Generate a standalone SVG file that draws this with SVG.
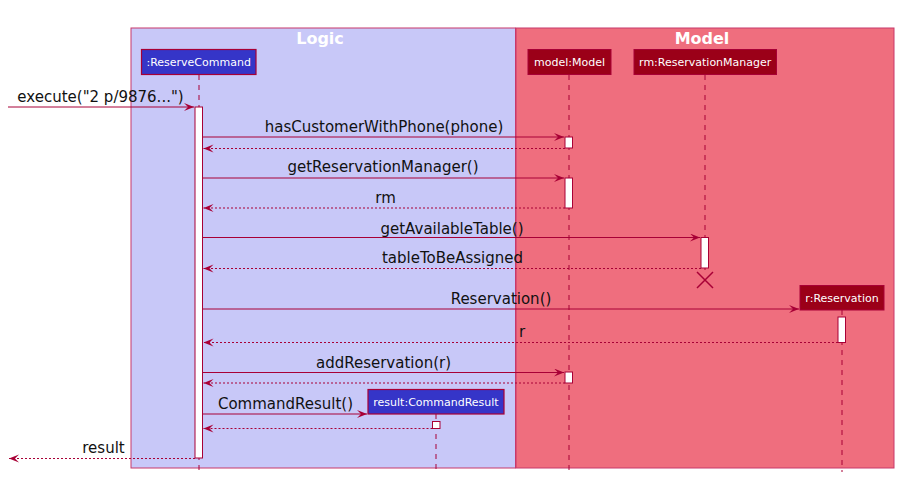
<svg xmlns="http://www.w3.org/2000/svg" width="916" height="483" viewBox="0 0 916 483">
<style>
.bg{fill:#ffffff}
.logic{fill:#C8C8F8;stroke:#C8386A;stroke-width:1}
.model{fill:#EF6E7E;stroke:#C8386A;stroke-width:1}
.title{font-family:"DejaVu Sans",sans-serif;font-size:16px;font-weight:bold;fill:#ffffff;text-anchor:middle}
.lpart{fill:#3535C8;stroke:#A80036;stroke-width:1.2}
.mpart{fill:#9B0018;stroke:#A80036;stroke-width:1}
.plabel{font-family:"DejaVu Sans",sans-serif;font-size:11px;fill:#ffffff;text-anchor:middle}
.life{stroke:#A80036;stroke-width:1;stroke-dasharray:5,5;fill:none}
.act{fill:#ffffff;stroke:#A80036;stroke-width:1}
.msg{stroke:#A80036;stroke-width:1;fill:none;marker-end:url(#ah)}
.ret{stroke:#A80036;stroke-width:1;stroke-dasharray:2,2;fill:none;marker-end:url(#ah)}
.lbl{font-family:"DejaVu Sans",sans-serif;font-size:15px;fill:#111111;text-anchor:middle}
</style>
<defs>
<marker id="ah" markerUnits="userSpaceOnUse" markerWidth="12" markerHeight="10" refX="10" refY="4" orient="auto">
<path d="M0,0 L10,4 L0,8 L4,4 Z" fill="#A80036"/>
</marker>
</defs>
<rect class="bg" x="0" y="0" width="916" height="483"/>
<g id="box-logic">
<rect class="logic" x="131" y="28" width="384.5" height="440"/>
<text class="title" x="320" y="44">Logic</text>
</g>
<g id="box-model">
<rect class="model" x="516" y="28" width="378" height="440"/>
<text class="title" x="702" y="44">Model</text>
</g>
<g id="lifelines">
<line class="life" x1="199" y1="75" x2="199" y2="472"/>
<line class="life" x1="569" y1="75" x2="569" y2="472"/>
<line class="life" x1="705" y1="75" x2="705" y2="275"/>
<line class="life" x1="842" y1="310" x2="842" y2="472"/>
<line class="life" x1="436" y1="414" x2="436" y2="472"/>
</g>
<g id="node-reservecommand">
<rect class="lpart" x="141.5" y="49.5" width="114.5" height="25"/>
<text class="plabel" x="198.7" y="66">:ReserveCommand</text>
<rect class="act" x="195" y="107" width="7.5" height="351"/>
</g>
<g id="node-model">
<rect class="mpart" x="528" y="49.5" width="83" height="25"/>
<text class="plabel" x="569.5" y="66">model:Model</text>
<rect class="act" x="565" y="137" width="7.5" height="11"/>
<rect class="act" x="565" y="178" width="7.5" height="30"/>
<rect class="act" x="565" y="372" width="7.5" height="11"/>
</g>
<g id="node-rm">
<rect class="mpart" x="634" y="49.5" width="142.5" height="25"/>
<text class="plabel" x="705.2" y="66">rm:ReservationManager</text>
<rect class="act" x="701" y="237.5" width="7.5" height="30.5"/>
<path d="M697,272 L713,288 M713,272 L697,288" stroke="#A80036" stroke-width="1.5" fill="none"/>
</g>
<g id="node-reservation">
<rect class="mpart" x="800" y="285.5" width="84" height="24.5"/>
<text class="plabel" x="842" y="302">r:Reservation</text>
<rect class="act" x="838" y="317" width="7.5" height="25.5"/>
</g>
<g id="node-commandresult">
<rect class="lpart" x="368" y="389.5" width="136" height="24.5"/>
<text class="plabel" x="436" y="406">result:CommandResult</text>
<rect class="act" x="432.5" y="421.5" width="7.5" height="7"/>
</g>
<g id="connectors">
<line class="msg" x1="8" y1="107" x2="194" y2="107"/>
<text class="lbl" x="100.5" y="102">execute("2 p/9876...")</text>
<line class="msg" x1="202.5" y1="137" x2="564" y2="137"/>
<text class="lbl" x="384" y="132">hasCustomerWithPhone(phone)</text>
<line class="ret" x1="565" y1="148.5" x2="203.5" y2="148.5"/>
<line class="msg" x1="202.5" y1="178" x2="564" y2="178"/>
<text class="lbl" x="383" y="172">getReservationManager()</text>
<line class="ret" x1="565" y1="208" x2="203.5" y2="208"/>
<text class="lbl" x="385.5" y="203">rm</text>
<line class="msg" x1="202.5" y1="237.5" x2="700" y2="237.5"/>
<text class="lbl" x="452" y="234">getAvailableTable()</text>
<line class="ret" x1="701" y1="268.5" x2="203.5" y2="268.5"/>
<text class="lbl" x="452.5" y="263">tableToBeAssigned</text>
<line class="msg" x1="202.5" y1="309" x2="799" y2="309"/>
<text class="lbl" x="501" y="304">Reservation()</text>
<line class="ret" x1="838" y1="342.5" x2="203.5" y2="342.5"/>
<text class="lbl" x="522" y="337">r</text>
<line class="msg" x1="202.5" y1="372.5" x2="564" y2="372.5"/>
<text class="lbl" x="383.5" y="368">addReservation(r)</text>
<line class="ret" x1="565" y1="383" x2="203.5" y2="383"/>
<line class="msg" x1="202.5" y1="414" x2="367" y2="414"/>
<text class="lbl" x="285.5" y="408.5">CommandResult()</text>
<line class="ret" x1="432.5" y1="428.5" x2="203.5" y2="428.5"/>
<line class="ret" x1="195" y1="458.5" x2="9" y2="458.5"/>
<text class="lbl" x="103.5" y="453">result</text>
</g>
</svg>
